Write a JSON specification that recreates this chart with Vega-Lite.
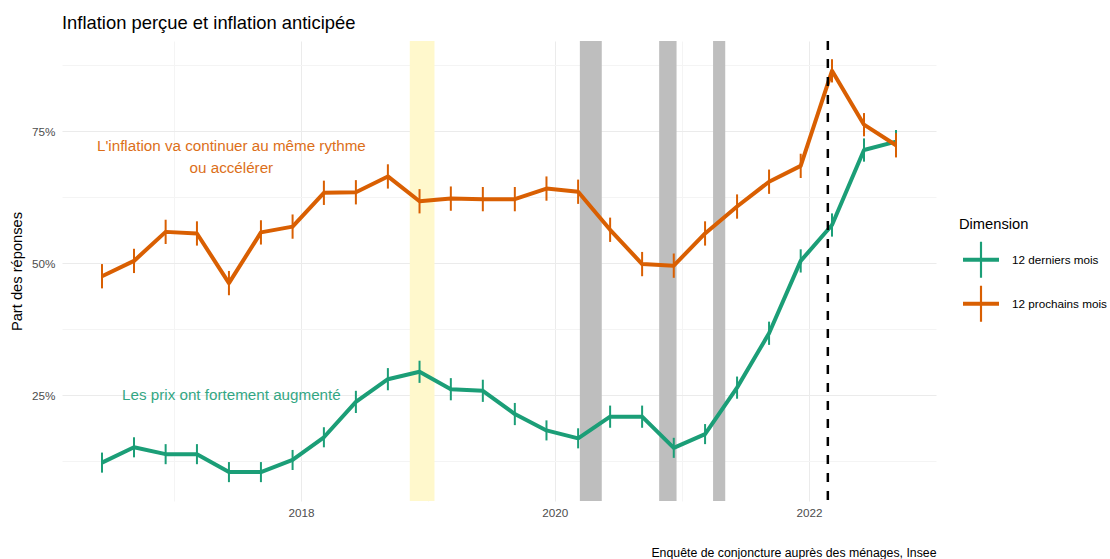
{
  "$schema": "https://vega.github.io/schema/vega-lite/v6.json",
  "autosize": {"type": "none"},
  "width": 874,
  "height": 460,
  "padding": {"left": 62, "top": 41, "right": 174, "bottom": 58},
  "background": "white",
  "config": {
    "font": "Liberation Sans",
    "view": {"stroke": null}
  },
  "title": {
    "text": "Inflation perçue et inflation anticipée",
    "anchor": "start",
    "frame": "group",
    "offset": 7,
    "fontSize": 18.4,
    "fontWeight": "normal",
    "color": "#000000",
    "font": "Liberation Sans"
  },
  "datasets": {
    "series": [
      {"date": "2016-06-08", "dim": "12 derniers mois", "value": 0.122, "lo": 0.103, "hi": 0.141},
      {"date": "2016-09-08", "dim": "12 derniers mois", "value": 0.151, "lo": 0.132, "hi": 0.170},
      {"date": "2016-12-08", "dim": "12 derniers mois", "value": 0.138, "lo": 0.119, "hi": 0.157},
      {"date": "2017-03-08", "dim": "12 derniers mois", "value": 0.138, "lo": 0.119, "hi": 0.157},
      {"date": "2017-06-08", "dim": "12 derniers mois", "value": 0.104, "lo": 0.085, "hi": 0.123},
      {"date": "2017-09-08", "dim": "12 derniers mois", "value": 0.104, "lo": 0.085, "hi": 0.123},
      {"date": "2017-12-08", "dim": "12 derniers mois", "value": 0.127, "lo": 0.108, "hi": 0.146},
      {"date": "2018-03-08", "dim": "12 derniers mois", "value": 0.170, "lo": 0.151, "hi": 0.189},
      {"date": "2018-06-08", "dim": "12 derniers mois", "value": 0.237, "lo": 0.216, "hi": 0.258},
      {"date": "2018-09-08", "dim": "12 derniers mois", "value": 0.280, "lo": 0.259, "hi": 0.301},
      {"date": "2018-12-08", "dim": "12 derniers mois", "value": 0.294, "lo": 0.273, "hi": 0.315},
      {"date": "2019-03-08", "dim": "12 derniers mois", "value": 0.261, "lo": 0.240, "hi": 0.282},
      {"date": "2019-06-08", "dim": "12 derniers mois", "value": 0.258, "lo": 0.237, "hi": 0.279},
      {"date": "2019-09-08", "dim": "12 derniers mois", "value": 0.214, "lo": 0.193, "hi": 0.235},
      {"date": "2019-12-08", "dim": "12 derniers mois", "value": 0.183, "lo": 0.164, "hi": 0.202},
      {"date": "2020-03-08", "dim": "12 derniers mois", "value": 0.168, "lo": 0.149, "hi": 0.187},
      {"date": "2020-06-08", "dim": "12 derniers mois", "value": 0.209, "lo": 0.188, "hi": 0.230},
      {"date": "2020-09-08", "dim": "12 derniers mois", "value": 0.209, "lo": 0.188, "hi": 0.230},
      {"date": "2020-12-08", "dim": "12 derniers mois", "value": 0.150, "lo": 0.131, "hi": 0.169},
      {"date": "2021-03-08", "dim": "12 derniers mois", "value": 0.176, "lo": 0.157, "hi": 0.195},
      {"date": "2021-06-08", "dim": "12 derniers mois", "value": 0.264, "lo": 0.243, "hi": 0.285},
      {"date": "2021-09-08", "dim": "12 derniers mois", "value": 0.367, "lo": 0.345, "hi": 0.389},
      {"date": "2021-12-08", "dim": "12 derniers mois", "value": 0.504, "lo": 0.482, "hi": 0.526},
      {"date": "2022-03-08", "dim": "12 derniers mois", "value": 0.572, "lo": 0.550, "hi": 0.594},
      {"date": "2022-06-08", "dim": "12 derniers mois", "value": 0.714, "lo": 0.692, "hi": 0.736},
      {"date": "2022-09-08", "dim": "12 derniers mois", "value": 0.730, "lo": 0.708, "hi": 0.752},
      {"date": "2016-06-08", "dim": "12 prochains mois", "value": 0.475, "lo": 0.452, "hi": 0.498},
      {"date": "2016-09-08", "dim": "12 prochains mois", "value": 0.504, "lo": 0.481, "hi": 0.527},
      {"date": "2016-12-08", "dim": "12 prochains mois", "value": 0.559, "lo": 0.536, "hi": 0.582},
      {"date": "2017-03-08", "dim": "12 prochains mois", "value": 0.556, "lo": 0.533, "hi": 0.579},
      {"date": "2017-06-08", "dim": "12 prochains mois", "value": 0.462, "lo": 0.439, "hi": 0.485},
      {"date": "2017-09-08", "dim": "12 prochains mois", "value": 0.558, "lo": 0.535, "hi": 0.581},
      {"date": "2017-12-08", "dim": "12 prochains mois", "value": 0.569, "lo": 0.546, "hi": 0.592},
      {"date": "2018-03-08", "dim": "12 prochains mois", "value": 0.633, "lo": 0.610, "hi": 0.656},
      {"date": "2018-06-08", "dim": "12 prochains mois", "value": 0.634, "lo": 0.611, "hi": 0.657},
      {"date": "2018-09-08", "dim": "12 prochains mois", "value": 0.664, "lo": 0.641, "hi": 0.687},
      {"date": "2018-12-08", "dim": "12 prochains mois", "value": 0.617, "lo": 0.594, "hi": 0.640},
      {"date": "2019-03-08", "dim": "12 prochains mois", "value": 0.622, "lo": 0.599, "hi": 0.645},
      {"date": "2019-06-08", "dim": "12 prochains mois", "value": 0.621, "lo": 0.598, "hi": 0.644},
      {"date": "2019-09-08", "dim": "12 prochains mois", "value": 0.621, "lo": 0.598, "hi": 0.644},
      {"date": "2019-12-08", "dim": "12 prochains mois", "value": 0.641, "lo": 0.618, "hi": 0.664},
      {"date": "2020-03-08", "dim": "12 prochains mois", "value": 0.635, "lo": 0.612, "hi": 0.658},
      {"date": "2020-06-08", "dim": "12 prochains mois", "value": 0.563, "lo": 0.540, "hi": 0.586},
      {"date": "2020-09-08", "dim": "12 prochains mois", "value": 0.498, "lo": 0.475, "hi": 0.521},
      {"date": "2020-12-08", "dim": "12 prochains mois", "value": 0.495, "lo": 0.472, "hi": 0.518},
      {"date": "2021-03-08", "dim": "12 prochains mois", "value": 0.556, "lo": 0.533, "hi": 0.579},
      {"date": "2021-06-08", "dim": "12 prochains mois", "value": 0.607, "lo": 0.584, "hi": 0.630},
      {"date": "2021-09-08", "dim": "12 prochains mois", "value": 0.654, "lo": 0.631, "hi": 0.677},
      {"date": "2021-12-08", "dim": "12 prochains mois", "value": 0.684, "lo": 0.661, "hi": 0.707},
      {"date": "2022-03-08", "dim": "12 prochains mois", "value": 0.864, "lo": 0.842, "hi": 0.886},
      {"date": "2022-06-08", "dim": "12 prochains mois", "value": 0.762, "lo": 0.740, "hi": 0.784},
      {"date": "2022-09-08", "dim": "12 prochains mois", "value": 0.723, "lo": 0.700, "hi": 0.746}
    ],
    "bands": [
      {"start": "2018-11-10", "end": "2019-01-20", "kind": "gilets"},
      {"start": "2020-03-13", "end": "2020-05-15", "kind": "confinement"},
      {"start": "2020-10-27", "end": "2020-12-16", "kind": "confinement"},
      {"start": "2021-03-31", "end": "2021-05-05", "kind": "confinement"}
    ],
    "events": [
      {"date": "2022-02-24"}
    ],
    "labels": [
      {"date": "2017-06-15", "value": 0.7216, "dim": "12 prochains mois", "text": ["L'inflation va continuer au même rythme", "ou accélérer"]},
      {"date": "2017-06-15", "value": 0.25, "dim": "12 derniers mois", "text": ["Les prix ont fortement augmenté"]}
    ]
  },
  "layer": [
    {
      "data": {"name": "bands"},
      "mark": {"type": "rect"},
      "encoding": {
        "x": {"field": "start", "type": "temporal"},
        "x2": {"field": "end"},
        "fill": {
          "field": "kind",
          "type": "nominal",
          "scale": {"domain": ["gilets", "confinement"], "range": ["#FFF8CC", "#BEBEBE"]},
          "legend": null
        }
      }
    },
    {
      "data": {"name": "series"},
      "mark": {"type": "line", "strokeWidth": 4, "strokeJoin": "round", "strokeCap": "butt"},
      "encoding": {
        "x": {
          "field": "date",
          "type": "temporal",
          "scale": {"type": "utc", "domain": ["2016-02-14", "2023-01-01"]},
          "axis": {
            "values": [
              {"year": 2017, "month": 1, "date": 1, "utc": true},
              {"year": 2018, "month": 1, "date": 1, "utc": true},
              {"year": 2019, "month": 1, "date": 1, "utc": true},
              {"year": 2020, "month": 1, "date": 1, "utc": true},
              {"year": 2021, "month": 1, "date": 1, "utc": true},
              {"year": 2022, "month": 1, "date": 1, "utc": true}
            ],
            "labelExpr": "utcyear(datum.value) % 2 == 0 ? utcFormat(datum.value, '%Y') : ''",
            "domain": false,
            "ticks": false,
            "grid": true,
            "gridColor": {"condition": {"test": "utcyear(datum.value) % 2 == 0", "value": "#EBEBEB"}, "value": "#F4F4F4"},
            "gridWidth": 1,
            "labelFont": "Liberation Sans",
            "labelFontSize": 11.7,
            "labelColor": "#4D4D4D",
            "labelPadding": 6,
            "labelFlush": false,
            "labelOverlap": false,
            "title": "Enquête de conjoncture auprès des ménages, Insee",
            "titleFont": "Liberation Sans",
            "titleFontSize": 12.3,
            "titleFontWeight": "normal",
            "titleColor": "#000000",
            "titleAnchor": "end",
            "titleAlign": "right",
            "titleBaseline": "alphabetic",
            "titleX": 874,
            "titleY": 55
          }
        },
        "y": {
          "field": "value",
          "type": "quantitative",
          "scale": {"domain": [0.0493, 0.9205], "nice": false, "zero": false},
          "axis": {
            "values": [0.125, 0.25, 0.375, 0.5, 0.625, 0.75, 0.875],
            "labelExpr": "(datum.value == 0.25 || datum.value == 0.5 || datum.value == 0.75) ? format(datum.value, '.0%') : ''",
            "domain": false,
            "ticks": false,
            "grid": true,
            "gridColor": {"condition": {"test": "datum.value == 0.25 || datum.value == 0.5 || datum.value == 0.75", "value": "#EBEBEB"}, "value": "#F4F4F4"},
            "gridWidth": 1,
            "labelFont": "Liberation Sans",
            "labelFontSize": 11.7,
            "labelColor": "#4D4D4D",
            "labelPadding": 7,
            "title": "Part des réponses",
            "titleFont": "Liberation Sans",
            "titleFontSize": 14.7,
            "titleFontWeight": "normal",
            "titleColor": "#000000",
            "titleAngle": 270,
            "titleAlign": "center",
            "titleBaseline": "alphabetic",
            "titleX": -41,
            "titleY": 230
          }
        },
        "color": {
          "field": "dim",
          "type": "nominal",
          "scale": {"domain": ["12 derniers mois", "12 prochains mois"], "range": ["#1B9E77", "#D95F02"]},
          "legend": {
            "title": "Dimension",
            "orient": "none",
            "legendX": 897,
            "legendY": 176,
            "padding": 0,
            "titleFont": "Liberation Sans",
            "titleFontSize": 14.7,
            "titleFontWeight": "normal",
            "titleColor": "#000000",
            "titlePadding": 10,
            "labelFont": "Liberation Sans",
            "labelFontSize": 11.7,
            "labelColor": "#000000",
            "labelOffset": 13,
            "symbolType": "M-1,-0.11L1,-0.11L1,0.11L-1,0.11Z M-0.06,-1L0.06,-1L0.06,1L-0.06,1Z",
            "symbolSize": 1296,
            "symbolOffset": 4,
            "rowPadding": 8,
            "symbolStrokeWidth": 0,
            "encode": {
              "symbols": {
                "update": {
                  "fill": {"scale": "color", "field": "value"},
                  "strokeWidth": {"value": 0},
                  "opacity": {"value": 1},
                  "fillOpacity": {"value": 1}
                }
              }
            }
          }
        }
      }
    },
    {
      "data": {"name": "series"},
      "mark": {"type": "rule", "strokeWidth": 2},
      "encoding": {
        "x": {"field": "date", "type": "temporal"},
        "y": {"field": "lo", "type": "quantitative"},
        "y2": {"field": "hi"},
        "color": {"field": "dim", "type": "nominal"}
      }
    },
    {
      "data": {"name": "events"},
      "mark": {"type": "rule", "strokeWidth": 2.5, "strokeDash": [9, 9], "color": "#000000"},
      "encoding": {
        "x": {"field": "date", "type": "temporal"}
      }
    },
    {
      "data": {"name": "labels"},
      "mark": {"type": "text", "font": "Liberation Sans", "fontSize": 15.2, "lineHeight": 22, "align": "center", "baseline": "middle", "opacity": 0.9},
      "encoding": {
        "x": {"field": "date", "type": "temporal"},
        "y": {"field": "value", "type": "quantitative"},
        "text": {"field": "text"},
        "color": {"condition": {"test": "datum.dim == '12 derniers mois'", "value": "#1B9E77"}, "value": "#D95F02"}
      }
    }
  ]
}
